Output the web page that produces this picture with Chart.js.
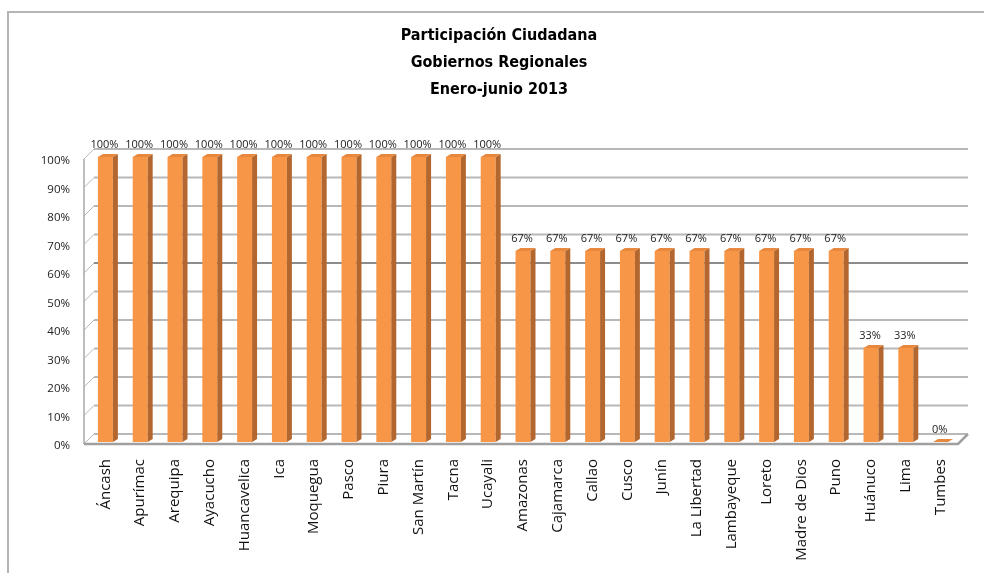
<!DOCTYPE html>
<html lang="es">
<head>
<meta charset="utf-8">
<title>Participación Ciudadana - Gobiernos Regionales</title>
<script src="https://cdn.jsdelivr.net/npm/chart.js@4.4.1/dist/chart.umd.min.js"></script>
<style>
  html, body { margin: 0; padding: 0; background: #fff; }
  #marco { position: relative; width: 984px; height: 573px; overflow: hidden; }
  #borde {
    position: absolute; left: 7px; top: 11px; width: 1000px; height: 600px;
    border-left: 2px solid #b5b5b5; border-top: 2px solid #b5b5b5;
    pointer-events: none;
  }
</style>
</head>
<body>
<div id="marco">
  <canvas id="grafico"></canvas>
  <div id="borde"></div>
</div>
<script>
// DATOS DEL GRÁFICO
const titulo = ["Participación Ciudadana", "Gobiernos Regionales", "Enero-junio 2013"];

const regiones = [
  "Áncash", "Apurímac", "Arequipa", "Ayacucho", "Huancavelica", "Ica",
  "Moquegua", "Pasco", "Piura", "San Martín", "Tacna", "Ucayali",
  "Amazonas", "Cajamarca", "Callao", "Cusco", "Junín", "La Libertad",
  "Lambayeque", "Loreto", "Madre de Dios", "Puno", "Huánuco", "Lima", "Tumbes"
];

const participacion = [
  1, 1, 1, 1, 1, 1, 1, 1, 1, 1, 1, 1,
  0.67, 0.67, 0.67, 0.67, 0.67, 0.67, 0.67, 0.67, 0.67, 0.67,
  0.33, 0.33, 0
];

const NARANJA = "#f79646";
const NARANJA_LADO = "#b3672e";
const NARANJA_TOPE = "#e8883e";

function porcentaje(v) {
  return Math.round(v * 100) + "%";
}

// EFECTO 3D: paredes, líneas de fondo y caras laterales de las barras
const efecto3d = {
  id: "efecto3d",
  beforeDatasetsDraw(chart) {
    const { ctx, chartArea: a, scales: { y } } = chart;
    const izq = a.left - 4;
    const dx = 10, dy = 8;
    ctx.save();

    // líneas de la pared de fondo
    for (let i = 0; i <= 10; i++) {
      const py = y.getPixelForValue(i / 10);
      ctx.strokeStyle = i === 6 ? "#8c8c8c" : "#b8b8b8";
      ctx.lineWidth = 2;
      ctx.beginPath();
      ctx.moveTo(izq + dx, py - dy);
      ctx.lineTo(a.right + dx, py - dy);
      ctx.stroke();
      // diagonales de la pared izquierda
      ctx.lineWidth = 1;
      ctx.strokeStyle = "#b8b8b8";
      ctx.beginPath();
      ctx.moveTo(izq, py + 2);
      ctx.lineTo(izq + dx, py - dy);
      ctx.stroke();
    }

    // borde frontal de la pared izquierda
    ctx.strokeStyle = "#a8a8a8";
    ctx.lineWidth = 1.5;
    ctx.beginPath();
    ctx.moveTo(izq, y.getPixelForValue(1) + 2);
    ctx.lineTo(izq, a.bottom + 2);
    ctx.stroke();

    // piso
    ctx.strokeStyle = "#a0a0a0";
    ctx.lineWidth = 2.5;
    ctx.beginPath();
    ctx.moveTo(izq, a.bottom + 2);
    ctx.lineTo(a.right, a.bottom + 2);
    ctx.lineTo(a.right + dx, a.bottom - dy);
    ctx.stroke();
    ctx.restore();
  },
  afterDatasetsDraw(chart) {
    const { ctx } = chart;
    const meta = chart.getDatasetMeta(0);
    const d = 5, h = 3;
    ctx.save();
    meta.data.forEach((barra, i) => {
      const { x, y, base, width } = barra.getProps(["x", "y", "base", "width"], true);
      const izq = x - width / 2;
      const der = x + width / 2;

      // cara lateral
      ctx.fillStyle = NARANJA_LADO;
      ctx.beginPath();
      ctx.moveTo(der, y);
      ctx.lineTo(der + d, y - h);
      ctx.lineTo(der + d, base - h);
      ctx.lineTo(der, base);
      ctx.closePath();
      ctx.fill();

      // cara superior
      ctx.fillStyle = NARANJA_TOPE;
      ctx.beginPath();
      ctx.moveTo(izq, y);
      ctx.lineTo(izq + d, y - h);
      ctx.lineTo(der + d, y - h);
      ctx.lineTo(der, y);
      ctx.closePath();
      ctx.fill();

      // etiqueta de valor
      ctx.fillStyle = "#222";
      ctx.font = "11px 'Open Sans'";
      ctx.textAlign = "center";
      ctx.textBaseline = "middle";
      ctx.fillText(porcentaje(participacion[i]), x - 1, y - 12);
    });
    ctx.restore();
  }
};

const config = {
  type: "bar",
  data: {
    labels: regiones,
    datasets: [
      {
        label: "Participación",
        data: participacion,
        backgroundColor: NARANJA,
        borderWidth: 0,
        categoryPercentage: 1,
        barPercentage: 0.43,
      },
    ],
  },
  options: {
    responsive: true,
    maintainAspectRatio: false,
    animation: false,
    layout: {
      padding: { left: 40, right: 26, top: 0, bottom: 0 },
    },
    plugins: {
      legend: { display: false },
      tooltip: { enabled: false },
      title: {
        display: true,
        text: titulo,
        color: "#000",
        font: {
          family: "'DejaVu Sans Condensed', 'DejaVu Sans', sans-serif",
          size: 16,
          weight: "bold",
          lineHeight: 27 / 16,
        },
        padding: { top: 22.5, bottom: 53.5 },
      },
    },
    scales: {
      x: {
        grid: { display: false, drawTicks: false },
        border: { display: false },
        ticks: {
          autoSkip: false,
          minRotation: 90,
          maxRotation: 90,
          padding: 17,
          color: "#111",
          font: { family: "'Open Sans'", size: 15 },
        },
        afterFit(scale) {
          scale.height = 131;
        },
      },
      y: {
        min: 0,
        max: 1,
        grid: { display: false, drawTicks: false },
        border: { display: false },
        ticks: {
          stepSize: 0.1,
          padding: 18,
          labelOffset: 4,
          color: "#222",
          font: { family: "'Open Sans'", size: 11.5 },
          callback: (v) => porcentaje(v),
        },
        afterFit(scale) {
          scale.width = 48;
        },
      },
    },
  },
  plugins: [efecto3d],
};

window.onload = () => {
  new Chart(document.getElementById("grafico"), config);
};
</script>
</body>
</html>
